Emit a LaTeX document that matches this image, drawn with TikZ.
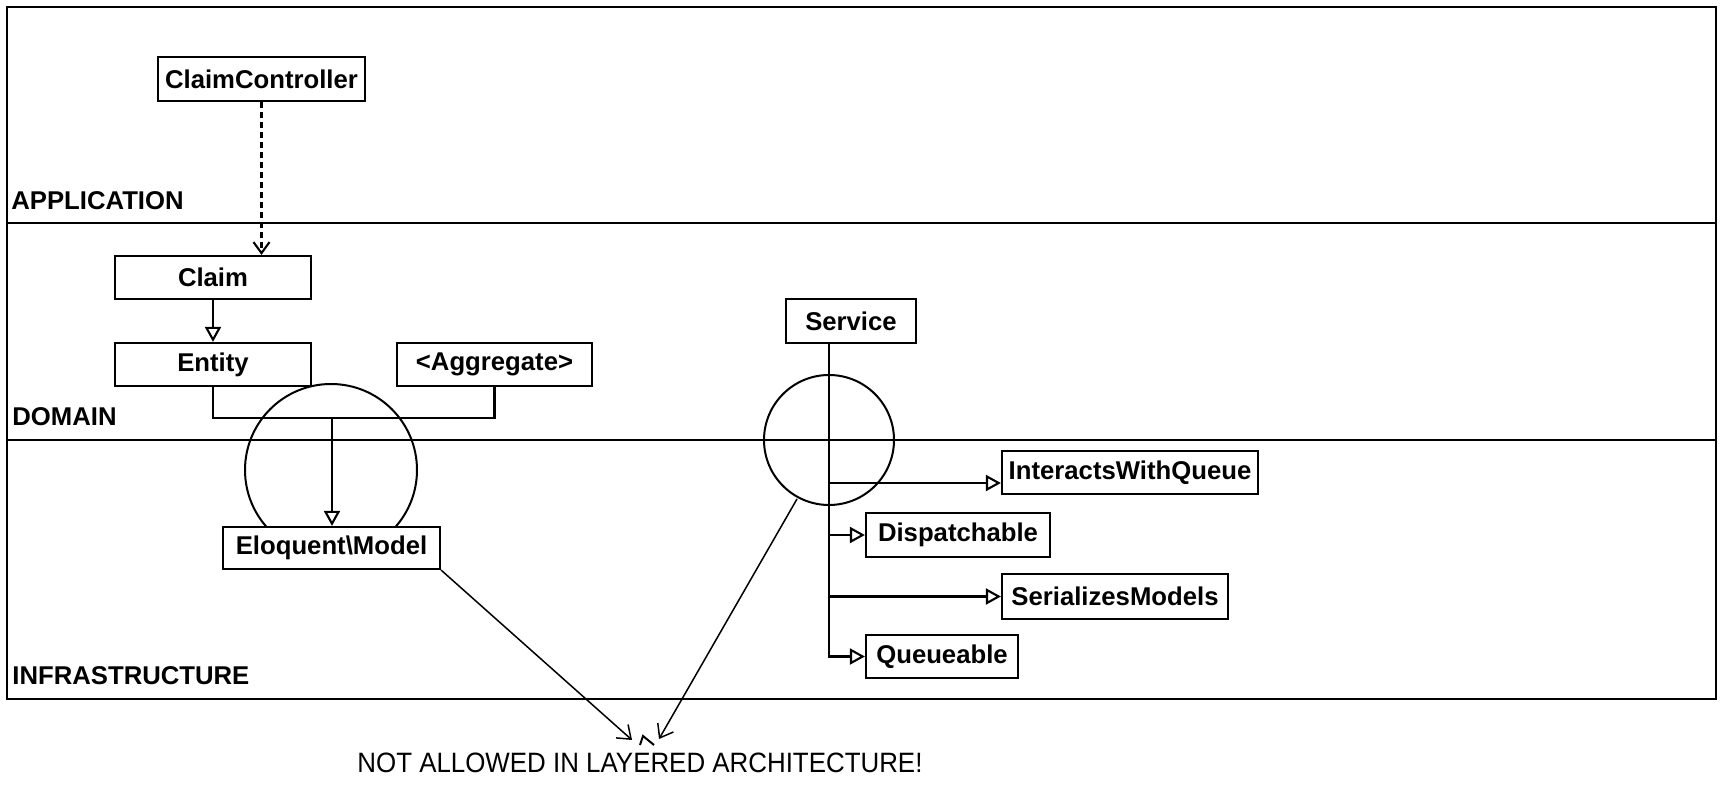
\documentclass[tikz,border=0pt]{standalone}
\usepackage{fontspec}
\setmainfont{Liberation Sans}
\usetikzlibrary{arrows.meta,calc}
\begin{document}
\begin{tikzpicture}[x=0.5pt,y=-0.5pt,
  cls/.style={draw, fill=white, line width=1.1pt, inner sep=0pt, font=\fontsize{12.85}{15}\selectfont\bfseries},
  layerlabel/.style={anchor=base west, inner sep=0pt, font=\fontsize{12.85}{15}\selectfont\bfseries},
  conn/.style={line width=1.05pt},
  gen/.style={line width=1.05pt, -{Triangle[length=7.5pt, width=8pt, fill=white]}},
  dep/.style={line width=1.05pt, dash pattern=on 3pt off 2pt, -{Straight Barb[length=5.5pt, width=8pt]}},
  bad/.style={line width=0.75pt, -{Straight Barb[length=6pt, width=9pt]}},
  framestyle/.style={line width=1.3pt},
  ring/.style={line width=1pt}]
\useasboundingbox (0,0) rectangle (1725,790);

% layer frame
\draw[framestyle] (7,7) rectangle (1716,699);
\draw[framestyle] (7,223) -- (1716,223);
\draw[framestyle] (7,440) -- (1716,440);

% layer labels
\node[layerlabel] (app) at (11,210) {APPLICATION};
\node[layerlabel] (dom) at (12,426) {DOMAIN};
\node[layerlabel] (infra) at (12,685) {INFRASTRUCTURE};

% circles (drawn behind the boxes)
\draw[ring] (331,470) circle[radius=43pt];
\draw[ring] (829,440) circle[radius=32.5pt];

% classes
\node[cls, minimum width=103.5pt, minimum height=22pt] (cc) at (261.5,79) {ClaimController};
\node[cls, minimum width=98pt, minimum height=21.5pt] (claim) at (213,277.5) {Claim};
\node[cls, minimum width=98pt, minimum height=21.5pt] (entity) at (213,364.5) {Entity};
\node[cls, minimum width=97.5pt, minimum height=21.5pt] (agg) at (494.5,364.5) {\textless Aggregate\textgreater};
\node[cls, minimum width=108.5pt, minimum height=21pt] (eloq) at (331.5,548) {Eloquent\textbackslash Model};
\node[cls, minimum width=65pt, minimum height=22pt] (service) at (851,321) {Service};
\node[cls, minimum width=128pt, minimum height=21.5pt] (iwq) at (1130,472.5) {InteractsWithQueue};
\node[cls, minimum width=92pt, minimum height=22pt] (disp) at (958,535) {Dispatchable};
\node[cls, minimum width=113pt, minimum height=22.5pt] (ser) at (1115,596.5) {SerializesModels};
\node[cls, minimum width=76pt, minimum height=21.5pt] (queue) at (942,656.5) {Queueable};

% warning text
\node[anchor=base west, inner sep=0pt, font=\fontsize{14}{16}\selectfont] (warn) at (357,773) {\scalebox{0.925}[1]{NOT ALLOWED IN LAYERED ARCHITECTURE!}};

% connectors: domain side
\draw[dep] (cc.south) -- (cc.south |- claim.north);
\draw[gen] (claim.south) -- (entity.north);
\coordinate (j) at (332,418);
\draw[conn] (entity.south) |- (j) -| (agg.south);
\draw[gen] (j) -- (j |- eloq.north);

% connectors: service side
\coordinate (tx) at (829,0);
\coordinate (b1) at (829,483);
\draw[gen] (service.south -| tx) |- (queue.west);
\draw[gen] (b1) -- (b1 -| iwq.west);
\draw[gen] (tx |- disp.west) -- (disp.west);
\draw[gen] (tx |- ser.west) -- (ser.west);

% not allowed arrows
\coordinate (t1) at (632,740);
\coordinate (t2) at (659,739);
\coordinate (rs) at (797,499);
\draw[bad] (eloq.south east) -- (t1);
\draw[bad] (rs) -- (t2);
\draw[line width=1pt] (640,745) -- (643,736) -- (654,745);
\end{tikzpicture}
\end{document}
